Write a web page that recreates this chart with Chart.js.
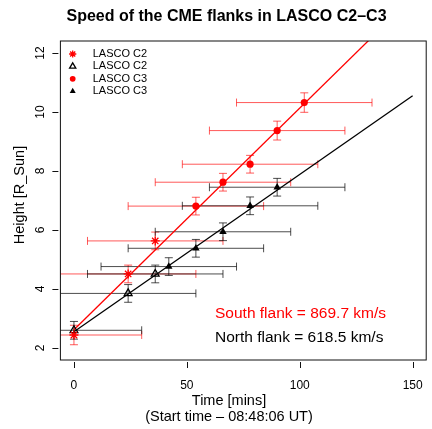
<!DOCTYPE html>
<html>
<head>
<meta charset="utf-8">
<title>Speed of the CME flanks in LASCO C2–C3</title>
<script src="https://cdn.jsdelivr.net/npm/chart.js@4.4.0/dist/chart.umd.min.js"></script>
<style>
    html, body { margin: 0; padding: 0; background: #fff; }
</style>
</head>
<body>
<canvas id="cmeChart" width="432" height="429"></canvas>
<script>
// values (time in minutes, height in solar radii)
var c2Time = [0, 24, 36];
var c3TimeNorth = [42, 54, 66, 78, 90];
var c3TimeSouth = [54, 66, 78, 90, 102];

var southC2 = [2.44, 4.51, 5.63];
var northC2 = [2.6, 3.85, 4.51];
var southC3 = [6.81, 7.62, 8.23, 9.37, 10.32];
var northC3 = [4.76, 5.38, 5.94, 6.82, 7.45];

// error bars
var c2TimeErr = [30, 30, 30];
var c3TimeErr = [30, 30, 30, 30, 30];
var southC2Err = [0.33, 0.3, 0.3];
var northC2Err = [0.3, 0.3, 0.3];
var southC3Err = [0.3, 0.3, 0.3, 0.32, 0.33];
var northC3Err = [0.3, 0.3, 0.3, 0.3, 0.3];

// linear fits
var fitTime = [0, 150];
var southFit = [2.62, 13.89];
var northFit = [2.55, 10.55];

var legendLabels = ['LASCO C2', 'LASCO C2', 'LASCO C3', 'LASCO C3'];
var speedNotes = ['South flank = 869.7 km/s', 'North flank = 618.5 km/s'];
var xTicks = [0, 50, 100, 150];
var yTicks = [2, 4, 6, 8, 10, 12];

var FONT = '"Liberation Sans", Arial, Helvetica, sans-serif';

function pts(xs, ys) {
    return xs.map(function (v, i) { return { x: v, y: ys[i] }; });
}

// R style box plus detached tick marks
var boxPlugin = {
    id: 'rBox',
    afterDraw: function (chart) {
        var c = chart.ctx, a = chart.chartArea;
        var sx = chart.scales.x, sy = chart.scales.y;
        c.save();
        c.strokeStyle = '#111';
        c.lineWidth = 1;
        c.strokeRect(a.left, a.top, a.right - a.left, a.bottom - a.top);
        c.beginPath();
        xTicks.forEach(function (v) {
            var px = Math.round(sx.getPixelForValue(v)) + 0.5;
            c.moveTo(px, a.bottom + 2);
            c.lineTo(px, a.bottom + 8);
        });
        yTicks.forEach(function (v) {
            var py = Math.round(sy.getPixelForValue(v)) + 0.5;
            c.moveTo(a.left - 2, py);
            c.lineTo(a.left - 8, py);
        });
        c.stroke();
        c.restore();
    }
};

var errorBarPlugin = {
    id: 'errorBars',
    beforeDatasetsDraw: function (chart) {
        var c = chart.ctx, a = chart.chartArea;
        var sx = chart.scales.x, sy = chart.scales.y;
        var cap = 4;
        c.save();
        c.beginPath();
        c.rect(a.left, a.top, a.right - a.left, a.bottom - a.top);
        c.clip();
        c.lineWidth = 1;
        chart.data.datasets.forEach(function (ds) {
            if (!ds.errX) return;
            c.strokeStyle = ds.barColor;
            ds.data.forEach(function (p, i) {
                var px = sx.getPixelForValue(p.x), py = sy.getPixelForValue(p.y);
                var x0 = sx.getPixelForValue(p.x - ds.errX[i]);
                var x1 = sx.getPixelForValue(p.x + ds.errX[i]);
                var y0 = sy.getPixelForValue(p.y - ds.errY[i]);
                var y1 = sy.getPixelForValue(p.y + ds.errY[i]);
                c.beginPath();
                c.moveTo(x0, py); c.lineTo(x1, py);
                c.moveTo(x0, py - cap); c.lineTo(x0, py + cap);
                c.moveTo(x1, py - cap); c.lineTo(x1, py + cap);
                c.moveTo(px, y0); c.lineTo(px, y1);
                c.moveTo(px - cap, y0); c.lineTo(px + cap, y0);
                c.moveTo(px - cap, y1); c.lineTo(px + cap, y1);
                c.stroke();
            });
        });
        c.restore();
    }
};

// titles, legend and the speed notes
var textPlugin = {
    id: 'texts',
    afterDraw: function (chart) {
        var c = chart.ctx;
        c.save();
        c.fillStyle = '#000';
        c.textAlign = 'center';
        c.textBaseline = 'alphabetic';
        c.font = 'bold 16px ' + FONT;
        c.fillText('Speed of the CME flanks in LASCO C2–C3', 226.5, 20.7);

        c.font = '14.5px ' + FONT;
        c.textBaseline = 'middle';
        c.fillText('Time [mins]', 229, 401);
        c.fillText('(Start time – 08:48:06 UT)', 229, 417);

        c.save();
        c.translate(19.5, 195);
        c.rotate(-Math.PI / 2);
        c.fillText('Height [R_Sun]', 0, 0);
        c.restore();

        // legend
        var rowY = [54, 66.4, 78.8, 91.2];
        c.textAlign = 'left';
        c.font = '11px ' + FONT;
        chart.data.datasets.forEach(function (ds, i) {
            if (i >= legendLabels.length) return;
            c.fillStyle = ds.pointBackgroundColor;
            c.strokeStyle = ds.pointBorderColor;
            c.lineWidth = ds.pointBorderWidth;
            Chart.helpers.drawPoint(c, {
                pointStyle: ds.pointStyle,
                radius: ds.pointRadius * 0.8,
                borderWidth: ds.pointBorderWidth,
                rotation: 0
            }, 72.7, rowY[i]);
            c.fillStyle = '#000';
            c.fillText(legendLabels[i], 92.7, rowY[i]);
        });

        c.font = '15.5px ' + FONT;
        c.textBaseline = 'alphabetic';
        c.fillStyle = '#ff0000';
        c.fillText(speedNotes[0], 215, 318);
        c.fillStyle = '#000';
        c.fillText(speedNotes[1], 215, 341.5);
        c.restore();
    }
};

var ctx = document.getElementById('cmeChart').getContext('2d');
var cmeChart = new Chart(ctx, {
    type: 'scatter',
    data: {
        datasets: [{
            label: legendLabels[0],
            data: pts(c2Time, southC2),
            errX: c2TimeErr, errY: southC2Err, barColor: 'rgba(255, 0, 0, 0.65)',
            pointStyle: 'star', pointRadius: 4.5, pointBorderWidth: 1.3,
            pointBorderColor: '#ff0000', pointBackgroundColor: '#ff0000',
            order: 1
        }, {
            label: legendLabels[1],
            data: pts(c2Time, northC2),
            errX: c2TimeErr, errY: northC2Err, barColor: 'rgba(0, 0, 0, 0.7)',
            pointStyle: 'triangle', pointRadius: 4.5, pointBorderWidth: 1.3,
            pointBorderColor: '#000', pointBackgroundColor: 'rgba(0, 0, 0, 0)',
            order: 2
        }, {
            label: legendLabels[2],
            data: pts(c3TimeSouth, southC3),
            errX: c3TimeErr, errY: southC3Err, barColor: 'rgba(255, 0, 0, 0.65)',
            pointStyle: 'circle', pointRadius: 3.6, pointBorderWidth: 0,
            pointBorderColor: '#ff0000', pointBackgroundColor: '#ff0000',
            order: 3
        }, {
            label: legendLabels[3],
            data: pts(c3TimeNorth, northC3),
            errX: c3TimeErr, errY: northC3Err, barColor: 'rgba(0, 0, 0, 0.7)',
            pointStyle: 'triangle', pointRadius: 4.3, pointBorderWidth: 0,
            pointBorderColor: '#000', pointBackgroundColor: '#000',
            order: 4
        }, {
            label: 'South fit',
            data: pts(fitTime, southFit),
            showLine: true, pointRadius: 0,
            borderColor: '#ff0000', borderWidth: 1.3,
            order: 5
        }, {
            label: 'North fit',
            data: pts(fitTime, northFit),
            showLine: true, pointRadius: 0,
            borderColor: '#000', borderWidth: 1.3,
            order: 6
        }]
    },
    options: {
        responsive: false,
        animation: false,
        devicePixelRatio: 1,
        layout: { padding: { left: 0, right: 4.4, top: 41, bottom: 0 } },
        plugins: {
            legend: { display: false },
            tooltip: { enabled: false },
            title: { display: false }
        },
        scales: {
            x: {
                type: 'linear',
                min: -6,
                max: 156,
                afterBuildTicks: function (s) { s.ticks = xTicks.map(function (v) { return { value: v }; }); },
                afterFit: function (s) { s.height = 69; s.paddingLeft = 0; s.paddingRight = 0; },
                grid: { display: false, drawTicks: false },
                border: { display: false },
                ticks: { padding: 18, color: '#000', font: { family: FONT, size: 12 } }
            },
            y: {
                type: 'linear',
                min: 1.593,
                max: 12.407,
                afterBuildTicks: function (s) { s.ticks = yTicks.map(function (v) { return { value: v }; }); },
                afterFit: function (s) { s.width = 60.4; s.paddingTop = 0; s.paddingBottom = 0; },
                grid: { display: false, drawTicks: false },
                border: { display: false },
                ticks: {
                    padding: 13, color: '#000', minRotation: 90, maxRotation: 90,
                    crossAlign: 'center', font: { family: FONT, size: 12 }
                }
            }
        }
    },
    plugins: [errorBarPlugin, boxPlugin, textPlugin]
});
</script>
</body>
</html>
